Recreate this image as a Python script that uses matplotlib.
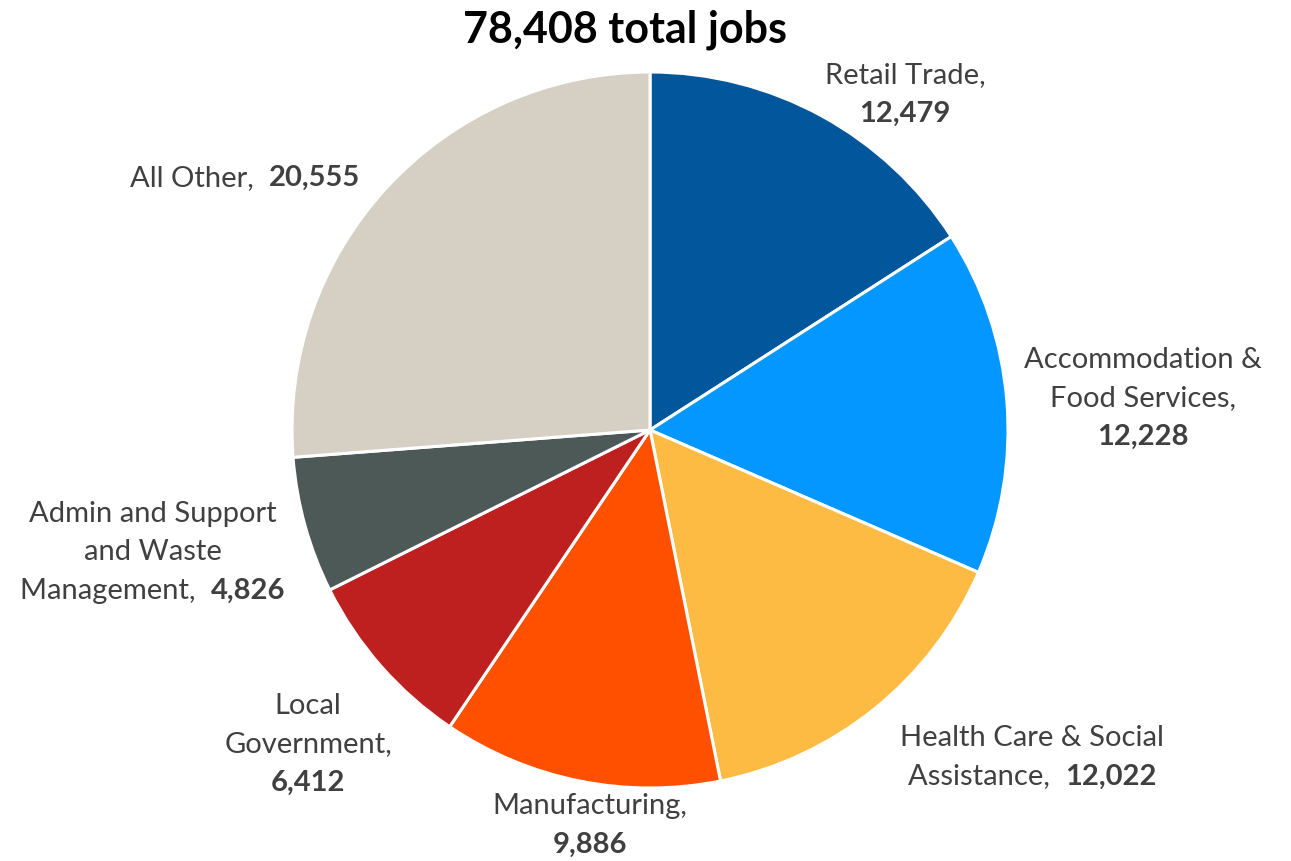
import matplotlib
matplotlib.use("Agg")
import matplotlib.pyplot as plt

categories = ["Retail Trade", "Accommodation & Food Services", "Health Care & Social Assistance",
              "Manufacturing", "Local Government", "Admin and Support and Waste Management", "All Other"]
jobs = [12479, 12228, 12022, 9886, 6412, 4826, 20555]
colors = ["#02569B", "#0397FF", "#FEBB43", "#FF5000", "#BE1F1F", "#4D5957", "#D6D0C4"]
title = "{:,} total jobs".format(sum(jobs))

# label text broken into lines as in the original; value goes on its own line or after the last name line
label_lines = [
    ["Retail Trade,"],
    ["Accommodation &", "Food Services,"],
    ["Health Care & Social", "Assistance,"],
    ["Manufacturing,"],
    ["Local", "Government,"],
    ["Admin and Support", "and Waste", "Management,"],
    ["All Other,"],
]
value_inline = [False, False, True, False, False, True, True]
# label centre (x, first line y) in pixels from top-left
label_pos = [(905, 75), (1143, 360), (1032, 738), (590, 806), (308, 706), (153, 514), (245, 178)]

W, H = 1291, 861
TXT = "#404040"
FS = 21
LINE = 38.5
plt.rcParams["font.family"] = ["Lato", "DejaVu Sans"]

fig = plt.figure(figsize=(W / 100, H / 100), dpi=100)
ax = fig.add_axes([0, 0, 1, 1])
ax.set_xlim(0, W)
ax.set_ylim(0, H)
ax.set_aspect("equal")
ax.axis("off")

ax.pie(jobs, colors=colors, startangle=90, counterclock=False, center=(650, H - 430), radius=358,
       wedgeprops=dict(edgecolor="white", linewidth=2.2))
ax.set_xlim(0, W)
ax.set_ylim(0, H)

ax.text(625, H - 30, title, ha="center", va="center", fontsize=31, fontweight="bold", color="black")

renderer = fig.canvas.get_renderer()


def put_line(xc, y, segs):
    texts = []
    for s, bold in segs:
        t = ax.text(0, H - y, s, ha="left", va="center", fontsize=FS, color=TXT,
                    fontweight="bold" if bold else "normal")
        texts.append(t)
    widths = []
    for t in texts:
        bb = t.get_window_extent(renderer)
        widths.append(bb.width)
    total = sum(widths)
    x = xc - total / 2
    for t, w in zip(texts, widths):
        t.set_x(x)
        x += w


for lines, val, inline, (xc, y0) in zip(label_lines, jobs, value_inline, label_pos):
    vs = "{:,}".format(val)
    rows = [[(l, False)] for l in lines]
    if inline:
        rows[-1] = [(lines[-1] + "  ", False), (vs, True)]
    else:
        rows.append([(vs, True)])
    for i, segs in enumerate(rows):
        put_line(xc, y0 + i * LINE, segs)

fig.savefig("out.png", dpi=100, facecolor="white")
